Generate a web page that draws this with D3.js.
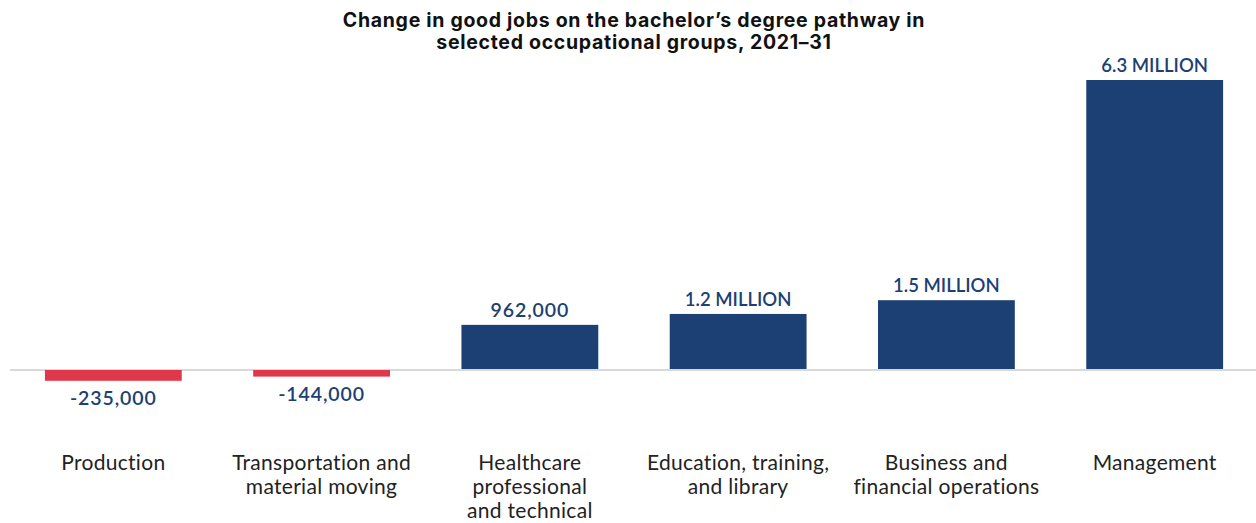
<!DOCTYPE html>
<html><head><meta charset="utf-8">
<script src="https://cdn.jsdelivr.net/npm/d3@7"></script>
<style>body{margin:0;background:#fff;} svg{display:block;}</style>
</head><body>
<svg id="c" width="1256" height="523"></svg>
<script>
const categories = [
  ["Production"],
  ["Transportation and","material moving"],
  ["Healthcare","professional","and technical"],
  ["Education, training,","and library"],
  ["Business and","financial operations"],
  ["Management"]
];
const values = [-235000, -144000, 962000, 1200000, 1500000, 6300000];
const valueLabels = ["-235,000", "-144,000", "962,000", "1.2 MILLION", "1.5 MILLION", "6.3 MILLION"];
const titleLines = ["Change in good jobs on the bachelor\u2019s degree pathway in", "selected occupational groups, 2021\u201331"];

const svg = d3.select("#c");
const W = 1256;
const x = d3.scaleBand().domain(d3.range(values.length)).range([12, 1256]).paddingInner(0.343).paddingOuter(0.158);
const y = d3.scaleLinear().domain([0, 6300000]).range([369, 80]);

svg.append("g").selectAll("text").data(titleLines).join("text")
  .attr("x", 634).attr("y", (d,i) => 27 + i*22)
  .attr("text-anchor", "middle")
  .attr("font-family", "Inter, 'Liberation Sans', sans-serif")
  .attr("font-weight", 700).attr("font-size", 19.5).attr("letter-spacing", 0.7).attr("fill", "#111")
  .text(d => d);

svg.append("line").attr("x1", 10).attr("x2", W).attr("y1", y(0)+1).attr("y2", y(0)+1)
  .attr("stroke", "#d9d9d9").attr("stroke-width", 2);

svg.append("g").selectAll("rect").data(values).join("rect")
  .attr("x", (d,i) => x(i)).attr("width", x.bandwidth())
  .attr("y", d => d >= 0 ? y(d) : y(0)+1)
  .attr("height", d => Math.abs(y(d) - y(0)))
  .attr("fill", d => d >= 0 ? "#1c4073" : "#e0384b");

svg.append("g").selectAll("text").data(values).join("text")
  .attr("x", (d,i) => x(i) + x.bandwidth()/2)
  .attr("y", d => d >= 0 ? y(d) - 8 : y(d) + 25)
  .attr("text-anchor", "middle")
  .attr("font-family", "Lato, sans-serif").attr("font-weight", 600)
  .attr("font-size", (d,i) => /[A-Z]/.test(valueLabels[i]) ? 18.5 : 19.5)
  .attr("letter-spacing", (d,i) => /[A-Z]/.test(valueLabels[i]) ? 0 : 0.9)
  .attr("fill", "#1c4073")
  .text((d,i) => valueLabels[i]);

const cat = svg.append("g").selectAll("text").data(categories).join("text")
  .attr("x", (d,i) => x(i) + x.bandwidth()/2)
  .attr("y", 470)
  .attr("text-anchor", "middle")
  .attr("font-family", "Lato, sans-serif").attr("font-size", 21).attr("letter-spacing", 0.3).attr("fill", "#222");
cat.selectAll("tspan").data(d => d).join("tspan")
  .attr("x", function(){ return this.parentNode.getAttribute("x"); })
  .attr("dy", (d,i) => i === 0 ? 0 : 24)
  .text(d => d);
</script>
</body></html>
